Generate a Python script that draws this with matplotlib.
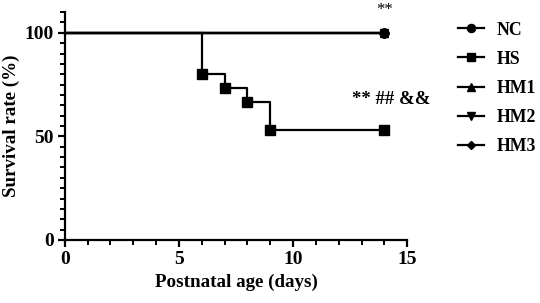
import matplotlib
matplotlib.use('Agg')
import matplotlib.pyplot as plt
from matplotlib.ticker import MultipleLocator

# Kaplan-Meier style survival data (step points)
groups = ['NC', 'HS', 'HM1', 'HM2', 'HM3']
markers = ['o', 's', '^', 'v', 'D']

flat_days = [0, 14]
flat_surv = [100, 100]

hs_days = [0, 6, 7, 8, 9, 14]
hs_surv = [100, 80, 73.3, 66.7, 53.3, 53.3]
hs_event_days = [6, 7, 8, 9, 14]
hs_event_surv = [80, 73.3, 66.7, 53.3, 53.3]

annot_top = '**'
annot_hs = '** ## &&'

plt.rcParams['font.family'] = ['Liberation Serif', 'DejaVu Serif']
plt.rcParams['font.weight'] = 'bold'

fig = plt.figure(figsize=(5.4, 3.03), dpi=100)
ax = fig.add_axes([0.120, 0.208, 0.634, 0.752])


def msize(mk):
    return 6 if mk in ('^', 'v') else (5 if mk == 'D' else 6.5)


lw = 1.6
for name, mk in zip(groups, markers):
    if name == 'HS':
        continue
    ax.plot(flat_days, flat_surv, color='black', lw=lw, zorder=2)
    ax.plot([flat_days[-1]], [flat_surv[-1]], marker=mk, color='black', ms=msize(mk),
            ls='none', zorder=3, clip_on=False)

ax.step(hs_days, hs_surv, where='post', color='black', lw=lw, zorder=2)
ax.plot(hs_event_days, hs_event_surv, marker='s', color='black', ms=6.5,
        ls='none', zorder=3)

handles = []
for name, mk in zip(groups, markers):
    h, = ax.plot([], [], color='black', lw=lw, marker=mk, ms=msize(mk) * 0.9, label=name)
    handles.append(h)

ax.text(14, 111, annot_top, ha='center', va='center', fontsize=12,
        fontweight='normal', clip_on=False)
ax.text(14.3, 68, annot_hs, ha='center', va='center', fontsize=13.5)

ax.set_xlim(0, 15)
ax.set_ylim(0, 110)
ax.set_xticks([0, 5, 10, 15])
ax.set_yticks([0, 50, 100])
ax.xaxis.set_minor_locator(MultipleLocator(1))
ax.yaxis.set_minor_locator(MultipleLocator(5))

for s in ['top', 'right']:
    ax.spines[s].set_visible(False)
for s in ['left', 'bottom']:
    ax.spines[s].set_linewidth(1.6)

ax.tick_params(which='major', length=5, width=1.6, labelsize=14, pad=3)
ax.tick_params(which='minor', length=3.5, width=1.4)
for lab in ax.get_xticklabels() + ax.get_yticklabels():
    lab.set_fontweight('bold')

ax.set_xlabel('Postnatal age (days)', fontsize=13.7, fontweight='bold', labelpad=4)
ax.set_ylabel('Survival rate (%)', fontsize=13.7, fontweight='bold', labelpad=3)

fig.legend(handles=handles, loc='upper left', bbox_to_anchor=(0.832, 0.958),
           frameon=False, handlelength=1.45, handletextpad=0.7,
           labelspacing=0.68, borderpad=0, prop={'weight': 'bold', 'size': 12.8})

plt.savefig('out.png', dpi=100)
plt.close()
